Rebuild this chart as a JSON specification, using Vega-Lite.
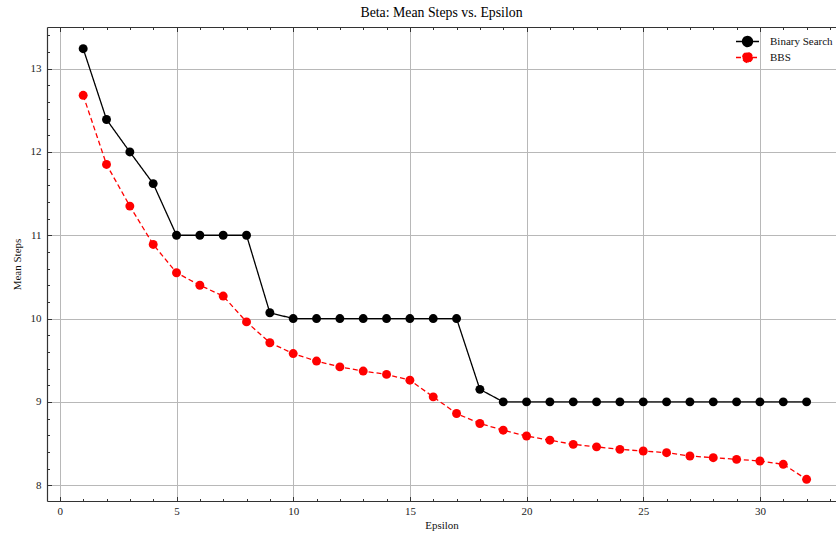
{
  "$schema": "https://vega.github.io/schema/vega-lite/v6.json",
  "width": 789,
  "height": 474,
  "autosize": {"type": "none"},
  "padding": {"left": 47, "top": 27, "right": 0, "bottom": 34},
  "background": "white",
  "title": {"text": "Beta: Mean Steps vs. Epsilon", "font": "Liberation Serif", "fontSize": 13.8, "fontWeight": "normal", "color": "black", "offset": 7, "anchor": "middle"},
  "config": {
    "view": {"stroke": null},
    "font": "Liberation Serif",
    "axis": {"labelFont": "Liberation Serif", "titleFont": "Liberation Serif", "labelFontSize": 11, "titleFontSize": 11, "titleFontWeight": "normal", "labelColor": "#222", "titleColor": "#111", "domainColor": "#333", "tickColor": "#333", "gridColor": "#b8b8b8", "gridWidth": 1, "gridOpacity": 1}
  },
  "data": {"values": [
    {"eps": 1, "steps": 13.24, "method": "Binary Search"},
    {"eps": 2, "steps": 12.39, "method": "Binary Search"},
    {"eps": 3, "steps": 12.0, "method": "Binary Search"},
    {"eps": 4, "steps": 11.62, "method": "Binary Search"},
    {"eps": 5, "steps": 11.0, "method": "Binary Search"},
    {"eps": 6, "steps": 11.0, "method": "Binary Search"},
    {"eps": 7, "steps": 11.0, "method": "Binary Search"},
    {"eps": 8, "steps": 11.0, "method": "Binary Search"},
    {"eps": 9, "steps": 10.07, "method": "Binary Search"},
    {"eps": 10, "steps": 10.0, "method": "Binary Search"},
    {"eps": 11, "steps": 10.0, "method": "Binary Search"},
    {"eps": 12, "steps": 10.0, "method": "Binary Search"},
    {"eps": 13, "steps": 10.0, "method": "Binary Search"},
    {"eps": 14, "steps": 10.0, "method": "Binary Search"},
    {"eps": 15, "steps": 10.0, "method": "Binary Search"},
    {"eps": 16, "steps": 10.0, "method": "Binary Search"},
    {"eps": 17, "steps": 10.0, "method": "Binary Search"},
    {"eps": 18, "steps": 9.15, "method": "Binary Search"},
    {"eps": 19, "steps": 9.0, "method": "Binary Search"},
    {"eps": 20, "steps": 9.0, "method": "Binary Search"},
    {"eps": 21, "steps": 9.0, "method": "Binary Search"},
    {"eps": 22, "steps": 9.0, "method": "Binary Search"},
    {"eps": 23, "steps": 9.0, "method": "Binary Search"},
    {"eps": 24, "steps": 9.0, "method": "Binary Search"},
    {"eps": 25, "steps": 9.0, "method": "Binary Search"},
    {"eps": 26, "steps": 9.0, "method": "Binary Search"},
    {"eps": 27, "steps": 9.0, "method": "Binary Search"},
    {"eps": 28, "steps": 9.0, "method": "Binary Search"},
    {"eps": 29, "steps": 9.0, "method": "Binary Search"},
    {"eps": 30, "steps": 9.0, "method": "Binary Search"},
    {"eps": 31, "steps": 9.0, "method": "Binary Search"},
    {"eps": 32, "steps": 9.0, "method": "Binary Search"},
    {"eps": 1, "steps": 12.68, "method": "BBS"},
    {"eps": 2, "steps": 11.85, "method": "BBS"},
    {"eps": 3, "steps": 11.35, "method": "BBS"},
    {"eps": 4, "steps": 10.89, "method": "BBS"},
    {"eps": 5, "steps": 10.55, "method": "BBS"},
    {"eps": 6, "steps": 10.40, "method": "BBS"},
    {"eps": 7, "steps": 10.27, "method": "BBS"},
    {"eps": 8, "steps": 9.96, "method": "BBS"},
    {"eps": 9, "steps": 9.71, "method": "BBS"},
    {"eps": 10, "steps": 9.58, "method": "BBS"},
    {"eps": 11, "steps": 9.49, "method": "BBS"},
    {"eps": 12, "steps": 9.42, "method": "BBS"},
    {"eps": 13, "steps": 9.37, "method": "BBS"},
    {"eps": 14, "steps": 9.33, "method": "BBS"},
    {"eps": 15, "steps": 9.26, "method": "BBS"},
    {"eps": 16, "steps": 9.06, "method": "BBS"},
    {"eps": 17, "steps": 8.86, "method": "BBS"},
    {"eps": 18, "steps": 8.74, "method": "BBS"},
    {"eps": 19, "steps": 8.66, "method": "BBS"},
    {"eps": 20, "steps": 8.59, "method": "BBS"},
    {"eps": 21, "steps": 8.54, "method": "BBS"},
    {"eps": 22, "steps": 8.49, "method": "BBS"},
    {"eps": 23, "steps": 8.46, "method": "BBS"},
    {"eps": 24, "steps": 8.43, "method": "BBS"},
    {"eps": 25, "steps": 8.41, "method": "BBS"},
    {"eps": 26, "steps": 8.39, "method": "BBS"},
    {"eps": 27, "steps": 8.35, "method": "BBS"},
    {"eps": 28, "steps": 8.33, "method": "BBS"},
    {"eps": 29, "steps": 8.31, "method": "BBS"},
    {"eps": 30, "steps": 8.29, "method": "BBS"},
    {"eps": 31, "steps": 8.25, "method": "BBS"},
    {"eps": 32, "steps": 8.07, "method": "BBS"}
  ]},
  "resolve": {"axis": {"x": "independent", "y": "independent"}},
  "layer": [
    {
      "mark": {"type": "line", "strokeWidth": 1.3},
      "encoding": {
        "x": {"field": "eps", "type": "quantitative", "scale": {"domain": [-0.55, 33.26], "nice": false, "zero": false},
              "axis": {"orient": "bottom", "title": "Epsilon", "values": [0, 5, 10, 15, 20, 25, 30], "ticks": false, "grid": true, "domain": true, "domainWidth": 1.2, "labelPadding": 4, "titlePadding": 3}},
        "y": {"field": "steps", "type": "quantitative", "scale": {"domain": [7.81, 13.5], "nice": false, "zero": false},
              "axis": {"orient": "left", "title": "Mean Steps", "values": [8, 9, 10, 11, 12, 13], "ticks": false, "grid": true, "domain": true, "domainWidth": 1.2, "labelPadding": 6, "titlePadding": 8}},
        "color": {"field": "method", "type": "nominal", "scale": {"domain": ["Binary Search", "BBS"], "range": ["black", "red"]},
                  "legend": {"title": null, "orient": "none", "legendX": 694.5, "legendY": 8.5, "symbolType": "M-2.3,0H2.3M1,0A1,1,0,1,1,-1,0A1,1,0,1,1,1,0Z", "symbolSize": 100, "symbolStrokeWidth": 1.3, "labelFont": "Liberation Serif", "labelFontSize": 11, "labelColor": "#111", "rowPadding": 0, "labelOffset": 16.5}},
        "strokeDash": {"field": "method", "type": "nominal", "scale": {"domain": ["Binary Search", "BBS"], "range": [[1, 0], [5, 3]]},
                  "legend": {"title": null, "orient": "none", "legendX": 694.5, "legendY": 8.5, "symbolType": "M-2.3,0H2.3M1,0A1,1,0,1,1,-1,0A1,1,0,1,1,1,0Z", "symbolSize": 100, "symbolStrokeWidth": 1.3, "labelFont": "Liberation Serif", "labelFontSize": 11, "labelColor": "#111", "rowPadding": 0, "labelOffset": 16.5}}
      }
    },
    {
      "mark": {"type": "point", "filled": true, "size": 80, "opacity": 1},
      "encoding": {
        "x": {"field": "eps", "type": "quantitative", "axis": {"orient": "bottom", "title": null, "labels": false, "grid": false, "domain": false, "ticks": true, "tickSize": -2.5, "tickWidth": 1, "values": [0,1,2,3,4,6,7,8,9,11,12,13,14,16,17,18,19,21,22,23,24,26,27,28,29,31,32,33]}},
        "y": {"field": "steps", "type": "quantitative", "axis": {"orient": "left", "title": null, "labels": false, "grid": false, "domain": false, "ticks": true, "tickSize": -2.5, "tickWidth": 1, "values": [7.8,8.2,8.4,8.6,8.8,9.2,9.4,9.6,9.8,10.2,10.4,10.6,10.8,11.2,11.4,11.6,11.8,12.2,12.4,12.6,12.8,13.2,13.4]}},
        "color": {"field": "method", "type": "nominal"}
      }
    },
    {
      "mark": {"type": "point", "opacity": 0},
      "encoding": {
        "x": {"field": "eps", "type": "quantitative", "axis": {"orient": "bottom", "title": null, "labels": false, "grid": false, "domain": false, "ticks": true, "tickSize": -4.5, "tickWidth": 1, "values": [0, 5, 10, 15, 20, 25, 30]}},
        "y": {"field": "steps", "type": "quantitative", "axis": {"orient": "left", "title": null, "labels": false, "grid": false, "domain": false, "ticks": true, "tickSize": -4.5, "tickWidth": 1, "values": [8, 9, 10, 11, 12, 13]}}
      }
    },
    {
      "mark": {"type": "point", "opacity": 0},
      "encoding": {
        "x": {"field": "eps", "type": "quantitative", "axis": {"orient": "top", "title": null, "labels": false, "grid": false, "domain": true, "domainWidth": 1.2, "ticks": true, "tickSize": -4.5, "tickWidth": 1, "values": [0, 5, 10, 15, 20, 25, 30]}},
        "y": {"field": "steps", "type": "quantitative", "axis": null}
      }
    },
    {
      "mark": {"type": "point", "opacity": 0},
      "encoding": {
        "x": {"field": "eps", "type": "quantitative", "axis": {"orient": "top", "title": null, "labels": false, "grid": false, "domain": false, "ticks": true, "tickSize": -2.5, "tickWidth": 1, "values": [0,1,2,3,4,6,7,8,9,11,12,13,14,16,17,18,19,21,22,23,24,26,27,28,29,31,32,33]}},
        "y": {"field": "steps", "type": "quantitative", "axis": null}
      }
    }
  ]
}
